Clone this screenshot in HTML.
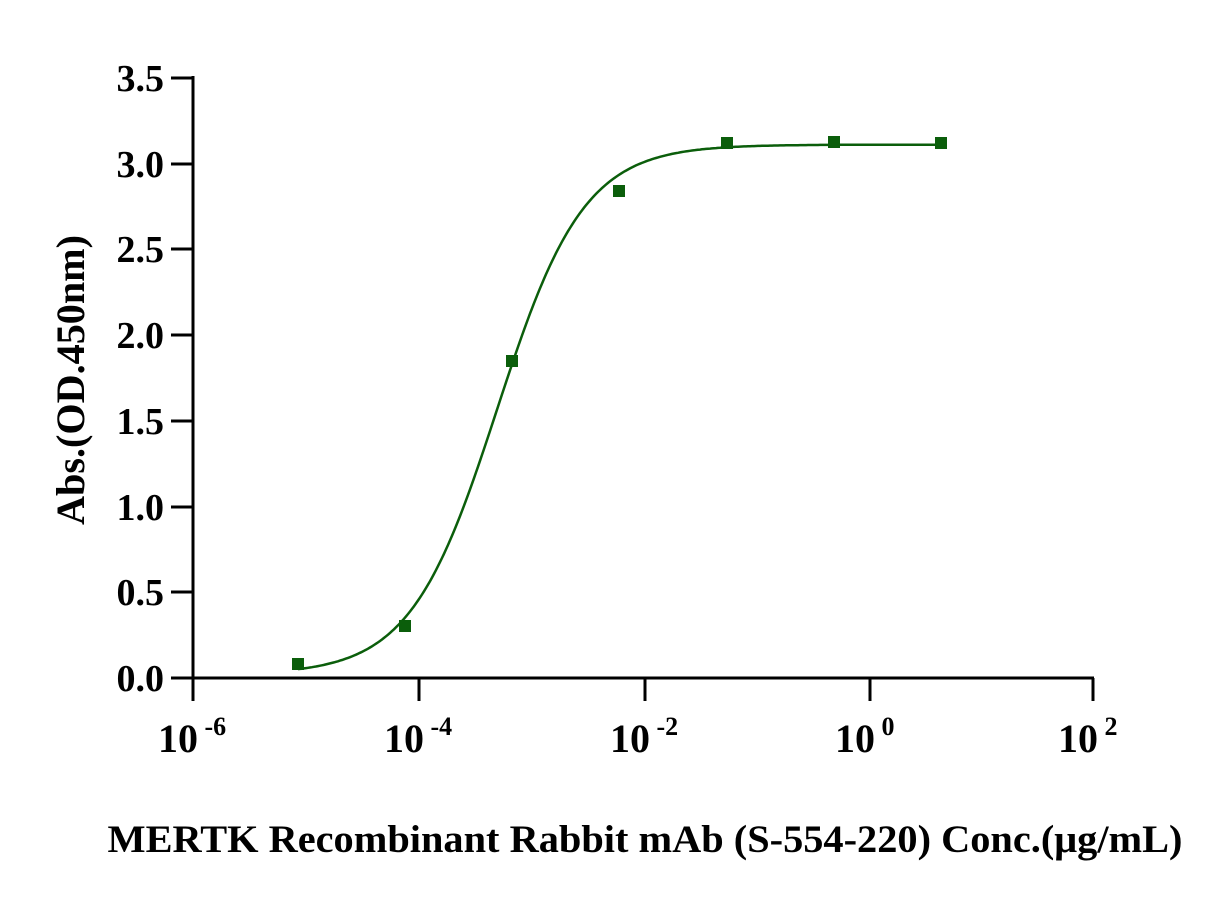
<!DOCTYPE html>
<html><head><meta charset="utf-8"><style>
body{margin:0;background:#fff;}
text{font-family:"Liberation Serif",serif;font-weight:bold;fill:#000;}
</style></head><body>
<svg width="1226" height="905" xmlns="http://www.w3.org/2000/svg">
<g stroke="#000" stroke-width="3" fill="none">
<line x1="193" y1="76" x2="193" y2="679"/>
<line x1="171" y1="678" x2="1094" y2="678"/>
<line x1="171" y1="78" x2="193" y2="78"/>
<line x1="171" y1="164" x2="193" y2="164"/>
<line x1="171" y1="249" x2="193" y2="249"/>
<line x1="171" y1="335" x2="193" y2="335"/>
<line x1="171" y1="421" x2="193" y2="421"/>
<line x1="171" y1="507" x2="193" y2="507"/>
<line x1="171" y1="592" x2="193" y2="592"/>
<line x1="193" y1="678" x2="193" y2="701"/>
<line x1="419" y1="678" x2="419" y2="701"/>
<line x1="645" y1="678" x2="645" y2="701"/>
<line x1="870" y1="678" x2="870" y2="701"/>
<line x1="1093" y1="678" x2="1093" y2="701"/>
</g>
<g font-size="38" text-anchor="end">
<text x="164" y="91">3.5</text>
<text x="164" y="177">3.0</text>
<text x="164" y="262">2.5</text>
<text x="164" y="348">2.0</text>
<text x="164" y="434">1.5</text>
<text x="164" y="520">1.0</text>
<text x="164" y="605">0.5</text>
<text x="164" y="691">0.0</text>
</g>
<g font-size="40">
<text x="158" y="752">10<tspan font-size="26" dy="-17"> -6</tspan></text>
<text x="384" y="752">10<tspan font-size="26" dy="-17"> -4</tspan></text>
<text x="610" y="752">10<tspan font-size="26" dy="-17"> -2</tspan></text>
<text x="835" y="752">10<tspan font-size="26" dy="-17"> 0</tspan></text>
<text x="1058" y="752">10<tspan font-size="26" dy="-17"> 2</tspan></text>
</g>
<text x="645" y="852" font-size="39" text-anchor="middle" textLength="1075" lengthAdjust="spacingAndGlyphs">MERTK Recombinant Rabbit mAb (S-554-220)  Conc.(μg/mL)</text>
<text transform="translate(84,380) rotate(-90)" font-size="40" text-anchor="middle" textLength="290" lengthAdjust="spacingAndGlyphs">Abs.(OD.450nm)</text>
<path id="c" fill="none" stroke="#0b5e0b" stroke-width="2.5"/>
<g fill="#0b5e0b">
<rect x="292" y="658" width="12" height="12"/>
<rect x="399" y="620" width="12" height="12"/>
<rect x="506" y="355" width="12" height="12"/>
<rect x="613" y="185" width="12" height="12"/>
<rect x="721" y="137" width="12" height="12"/>
<rect x="828" y="136" width="12" height="12"/>
<rect x="935" y="137" width="12" height="12"/>
</g>
</svg>
<script>
var d="",B=0.02,T=3.11,c=-4.65,h=2.25;
for(var px=298;px<=941;px+=2){var lx=-6+(px-193)/225.2;var y=B+(T-B)/(1+Math.pow(10,(c-lx)*h));var py=678-y*171.5;d+=(d?"L":"M")+px+","+py.toFixed(1);}
document.getElementById("c").setAttribute("d",d);
</script>
</body></html>
